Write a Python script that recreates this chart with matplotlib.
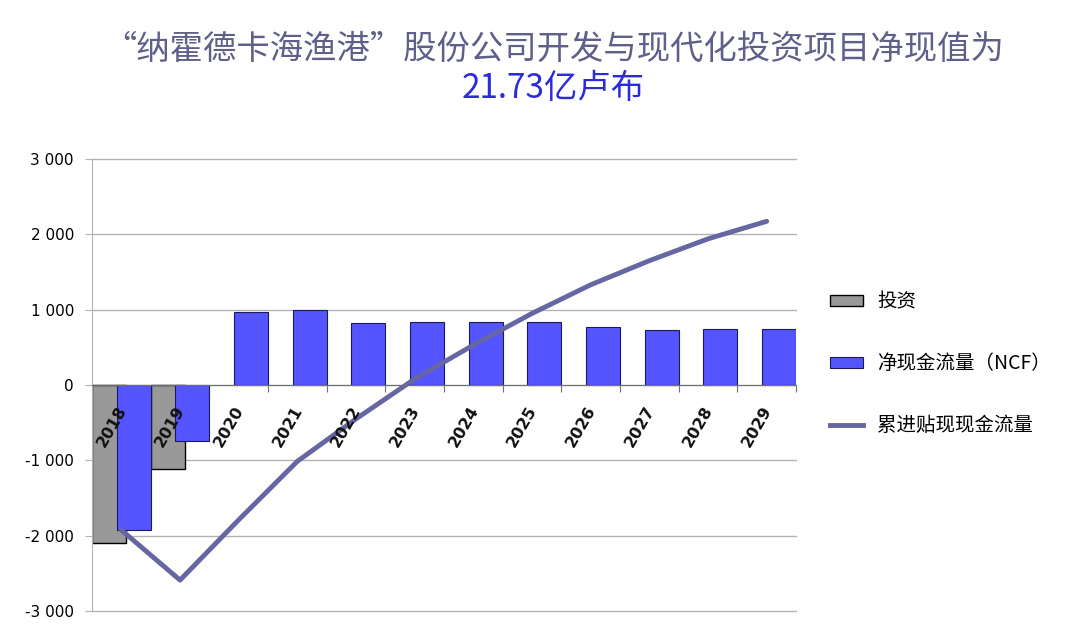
import matplotlib
matplotlib.use("Agg")
import matplotlib.pyplot as plt
import numpy as np
from matplotlib.patches import Patch
from matplotlib.lines import Line2D

plt.rcParams['font.family'] = ['Noto Sans CJK SC', 'DejaVu Sans']

# --- data ---
years = ['2018', '2019', '2020', '2021', '2022', '2023',
         '2024', '2025', '2026', '2027', '2028', '2029']
investment = [-2100, -1110, 0, 0, 0, 0, 0, 0, 0, 0, 0, 0]
ncf = [-1925, -740, 965, 1000, 827, 836, 836, 836, 765, 730, 739, 739]
cum_dcf = [-1925, -2590, -1790, -1013, -450, 80, 530, 950, 1330, 1650, 1940, 2173]
yticks = [-3000, -2000, -1000, 0, 1000, 2000, 3000]
ytick_labels = ['-3 000', '-2 000', '-1 000', '0', '1 000', '2 000', '3 000']

title_1 = '“纳霍德卡海渔港”股份公司开发与现代化投资项目净现值为'
title_2 = '21.73亿卢布'
legend_labels = ['投资', '净现金流量（NCF）', '累进贴现现金流量']

GREY = '#999999'
BLUE = '#5555FF'
LINE = '#6666A3'
GRID = '#B3B3B3'

fig = plt.figure(figsize=(10.84, 6.42), dpi=100)
ax = fig.add_axes([92 / 1084, 1 - 611 / 642, (796 - 92) / 1084, (611 - 159) / 642])

x = np.arange(len(years))
w = 0.58
inv = np.array(investment, dtype=float)
mask = inv != 0
ax.bar(x[mask] - 0.21, inv[mask], width=w, color=GREY, edgecolor='black', linewidth=1.0, zorder=2)
ax.bar(x + 0.21, ncf, width=w, color=BLUE, edgecolor='#1a1a5e', linewidth=0.8, zorder=3)
ax.plot(x, cum_dcf, color=LINE, linewidth=3.5, solid_capstyle='round', zorder=4)

ax.set_xlim(-0.5, len(years) - 0.5)
ax.set_ylim(-3000, 3000)
ax.set_yticks(yticks)
ax.set_yticklabels(ytick_labels, fontfamily='DejaVu Sans', fontsize=11)
ax.tick_params(axis='y', length=5, color=GRID, pad=8)
ax.yaxis.grid(True, color=GRID, linewidth=1.0, zorder=0)
for gl in ax.get_ygridlines():
    gl.set_clip_on(False)
ax.set_axisbelow(True)

# category boundaries as tick marks on the zero axis
ax.set_xticks(np.arange(len(years) + 1) - 0.5)
ax.set_xticklabels([])
ax.tick_params(axis='x', length=5, color='#707070', direction='out')
ax.spines['bottom'].set_position(('data', 0))
ax.spines['bottom'].set_color('#707070')
ax.spines['bottom'].set_zorder(5)
ax.spines['left'].set_color(GRID)
ax.spines['top'].set_visible(False)
ax.spines['right'].set_visible(False)

for i, yr in enumerate(years):
    ax.annotate(yr, xy=(i, 0), xytext=(1, -16), textcoords='offset points',
                rotation=60, rotation_mode='anchor', ha='right', va='center',
                fontsize=11.5, fontweight='bold', fontfamily='DejaVu Sans',
                color='#101010', zorder=6)

fig.text(0.511, 0.923, title_1, ha='center', va='center', fontsize=24, color='#5F5F8A')
fig.text(0.51, 0.862, title_2, ha='center', va='center', fontsize=24, color='#2B2BDB')

handles = [Patch(facecolor=GREY, edgecolor='black', linewidth=1.0),
           Patch(facecolor=BLUE, edgecolor='#1a1a5e', linewidth=0.8),
           Line2D([0], [0], color=LINE, linewidth=3.5)]
fig.legend(handles, legend_labels, loc='upper left', bbox_to_anchor=(812 / 1084, 1 - 274 / 642),
           frameon=False, fontsize=14, handlelength=1.7, handleheight=0.5,
           handletextpad=0.75, labelspacing=2.1)

fig.savefig('out.png', dpi=100)
